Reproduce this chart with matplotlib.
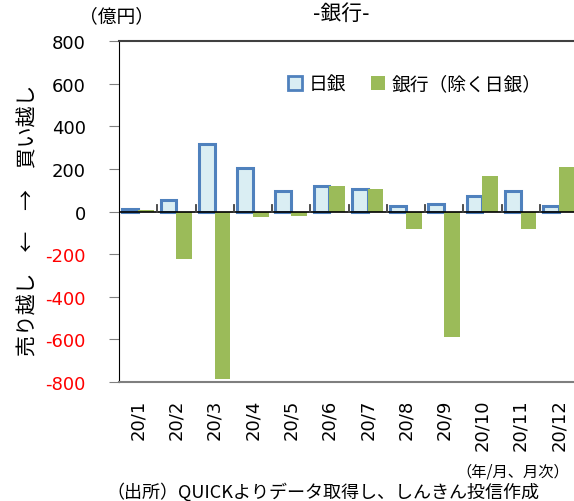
"""Bank net buying of Japanese equities: BOJ vs. banks (ex-BOJ), monthly 2020."""

import matplotlib

matplotlib.use("Agg")
import matplotlib.pyplot as plt  # noqa: E402
import numpy as np  # noqa: E402
from matplotlib.patches import Patch  # noqa: E402

plt.rcParams["font.family"] = ["Noto Sans CJK JP", "DejaVu Sans"]

months = ["20/1", "20/2", "20/3", "20/4", "20/5", "20/6",
          "20/7", "20/8", "20/9", "20/10", "20/11", "20/12"]
boj = [12, 52, 318, 203, 98, 120, 107, 25, 37, 75, 98, 25]
banks = [6, -222, -785, -27, -20, 120, 107, -80, -587, 168, -83, 211]
yticks = [800, 600, 400, 200, 0, -200, -400, -600, -800]

fig = plt.figure(figsize=(5.74, 5.02), dpi=100)
W, H = 574, 502
ax = fig.add_axes([119 / W, (H - 383) / H, (578 - 119) / W, (383 - 42) / H])

x = np.arange(len(months))
w = 0.41
ax.bar(x - w / 2, boj, w, color="#DAEEF3", edgecolor="#4F81BD", linewidth=2.2, zorder=2)
ax.bar(x + w / 2, banks, w, color="#9BBB59", zorder=2)
ax.axhline(0, color="black", lw=1.2, zorder=3)

ax.set_xlim(-0.5, len(months) - 0.5)
ax.set_ylim(-800, 800)
ax.set_yticks(yticks)
ax.set_yticklabels([str(v) for v in yticks], fontsize=13, family="DejaVu Sans")
for lab, v in zip(ax.get_yticklabels(), yticks):
    lab.set_color("red" if v < 0 else "black")
ax.tick_params(axis="y", direction="out", length=7, color="#808080", pad=17)

# category labels sit below the plot; tick marks sit on the zero line
ax.set_xticks(x)
ax.set_xticklabels(months, rotation=90, fontsize=13, family="DejaVu Sans")
ax.tick_params(axis="x", length=0, pad=12)
for b in np.arange(1, len(months)):
    ax.plot([b - 0.5, b - 0.5], [0, 32], color="#404040", lw=1.3, zorder=3)

ax.spines["right"].set_visible(False)
ax.spines["left"].set_color("black")
ax.spines["top"].set_color("#404040")
ax.spines["bottom"].set_color("#7f7f7f")
ax.spines["top"].set_linewidth(1.5)
ax.spines["bottom"].set_linewidth(1.5)

handles = [Patch(facecolor="#DAEEF3", edgecolor="#4F81BD", linewidth=2, label="日銀"),
           Patch(facecolor="#9BBB59", label="銀行（除く日銀）")]
ax.legend(handles=handles, ncol=2, loc="center left", bbox_to_anchor=(288 / W, 1 - 85 / H),
          bbox_transform=fig.transFigure, borderpad=0, borderaxespad=0,
          frameon=False, fontsize=13.5, handlelength=0.75, handleheight=0.75,
          handletextpad=0.35, columnspacing=1.3)

fig.text(341 / W, 1 - 14 / H, "-銀行-", ha="center", va="center", fontsize=15)
fig.text(116 / W, 1 - 17 / H, "（億円）", ha="center", va="center", fontsize=13.5)
fig.text(28 / W, 1 - 220 / H, "売り越し　←　→　買い越し", rotation=90,
         ha="center", va="center", fontsize=15)
fig.text(569 / W, 1 - 472 / H, "（年/月、月次）", ha="right", va="center", fontsize=11)
fig.text(323 / W, 1 - 492 / H, "（出所）QUICKよりデータ取得し、しんきん投信作成",
         ha="center", va="center", fontsize=13)

fig.savefig("out.png", dpi=100)
plt.close(fig)
